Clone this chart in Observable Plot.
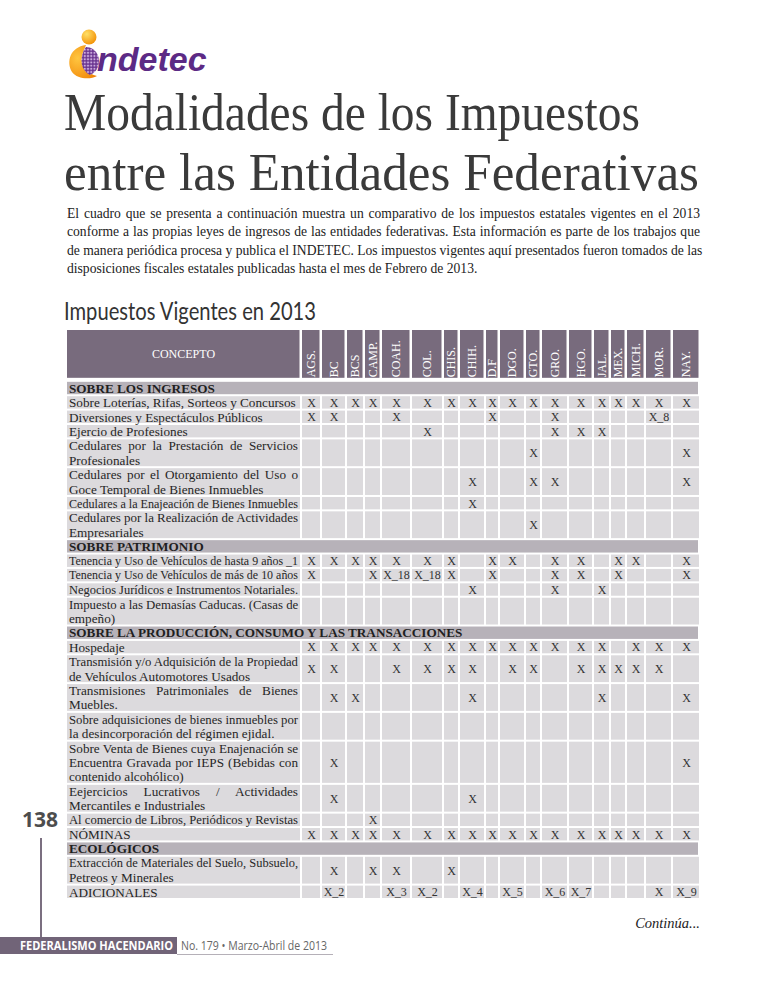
<!DOCTYPE html>
<html><head><meta charset="utf-8">
<script src="https://cdn.jsdelivr.net/npm/d3@7"></script>
<script src="https://cdn.jsdelivr.net/npm/@observablehq/plot@0.6"></script>
<style>
body{margin:0;background:#fff}
#page{position:relative;width:768px;height:994px;overflow:hidden;background:#fff;color:#333}
.abs{position:absolute;white-space:nowrap}
.fit{display:inline-block;transform-origin:0 50%}
#title{left:64px;top:83px;font-family:"Liberation Serif",serif;font-size:52px;line-height:60px;color:#3a3a3a}
#intro{left:67px;top:205px;width:633px;white-space:normal;font-family:"Liberation Serif",serif;font-size:13.6px;line-height:18.3px;color:#222}
#intro div{text-align:justify;text-align-last:justify;white-space:nowrap}
#intro div.last{text-align-last:left}
#sub{left:64px;top:298px;font-family:Lato,"Open Sans",sans-serif;font-size:25px;line-height:24px;color:#333}
#chart{left:0;top:320px}
#cont{right:68px;top:916px;font-family:"Liberation Serif",serif;font-style:italic;font-size:14.5px;line-height:14px;color:#222}
#pnum{left:22px;top:806px;font-family:"Open Sans",sans-serif;font-weight:700;font-size:21px;line-height:26px;color:#4d4d4d}
#vline{left:40px;top:838px;width:1.5px;height:99px;background:#7b6f80}
#fbar{left:0;top:937px;width:177px;height:17px;background:#716478}
#ftxt{left:20px;top:937px;font-family:"Open Sans",sans-serif;font-weight:700;font-size:12px;line-height:17px;color:#fff}
#fnum{left:181px;top:937px;font-family:"Open Sans",sans-serif;font-size:12px;line-height:17px;color:#666}
#fline{left:177px;top:954px;width:156px;height:1px;background:#b5b0b8}
</style></head>
<body><div id="page">
<svg class="abs" style="left:0;top:0" width="260" height="90">
  <defs>
    <radialGradient id="og" cx="0.35" cy="0.3" r="0.8"><stop offset="0" stop-color="#ffe066"/><stop offset="1" stop-color="#f28c00"/></radialGradient>
    <radialGradient id="og2" cx="0.3" cy="0.4" r="0.9"><stop offset="0" stop-color="#ffc640"/><stop offset="1" stop-color="#ef7d00"/></radialGradient>
    <pattern id="dots" width="3.2" height="3.2" patternUnits="userSpaceOnUse"><rect width="3.2" height="3.2" fill="#6a3590"/><circle cx="1.6" cy="1.6" r="1.1" fill="#c9a8dc"/></pattern>
  </defs>
  <circle cx="89" cy="37" r="7.5" fill="url(#og)"/>
  <path d="M86 45 C70 47 66 62 72 72 C77 79 90 80 97 76 C88 74 80 66 82 56 C83 51 85 48 86 45 Z" fill="url(#og2)"/>
  <path d="M86 47 C93 47 99 53 99 61 C99 68 95 73 90 75 C84 72 80 65 82 56 C83 52 84 49 86 47 Z" fill="url(#dots)"/>
  <text x="97" y="71" font-family="Liberation Sans, Arial, sans-serif" font-weight="700" font-style="italic" font-size="34" fill="#5c2a85">ndetec</text>
</svg>
<div id="title" class="abs"><div><span class="fit" data-w="576">Modalidades de los Impuestos</span></div><div><span class="fit" data-w="635">entre las Entidades Federativas</span></div></div>
<div id="intro" class="abs">
<div>El cuadro que se presenta a continuación muestra un comparativo de los impuestos estatales vigentes en el 2013</div>
<div>conforme a las propias leyes de ingresos de las entidades federativas. Esta información es parte de los trabajos que</div>
<div>de manera periódica procesa y publica el INDETEC. Los impuestos vigentes aquí presentados fueron tomados de las</div>
<div class="last">disposiciones fiscales estatales publicadas hasta el mes de Febrero de 2013.</div>
</div>
<div id="sub" class="abs"><span class="fit" data-w="252">Impuestos Vigentes en 2013</span></div>
<div id="chart" class="abs"></div>
<div id="cont" class="abs">Continúa...</div>
<div id="pnum" class="abs">138</div>
<div id="vline" class="abs"></div>
<div id="fbar" class="abs"></div>
<div id="ftxt" class="abs"><span class="fit" data-w="153">FEDERALISMO HACENDARIO</span></div>
<div id="fnum" class="abs"><span class="fit" data-w="146">No. 179 • Marzo-Abril de 2013</span></div>
<div id="fline" class="abs"></div>
</div>
<script>
// ---------------- DATA ----------------
const estados = ["AGS.","BC","BCS","CAMP.","COAH.","COL.","CHIS.","CHIH.","D.F","DGO.","GTO.","GRO.","HGO.","JAL.","MEX.","MICH.","MOR.","NAY."];
const encabezadoConcepto = "CONCEPTO";
const secciones = ["SOBRE LOS INGRESOS","SOBRE PATRIMONIO","SOBRE LA PRODUCCIÓN, CONSUMO Y LAS TRANSACCIONES","ECOLÓGICOS"];
const conceptos = [
  "Sobre Loterías, Rifas, Sorteos y Concursos",
  "Diversiones y Espectáculos Públicos",
  "Ejercio de Profesiones",
  "Cedulares por la Prestación de Servicios\nProfesionales",
  "Cedulares por el Otorgamiento del Uso o\nGoce Temporal de Bienes Inmuebles",
  "Cedulares a la Enajeación de Bienes Inmuebles",
  "Cedulares por la Realización de Actividades\nEmpresariales",
  "Tenencia y Uso de Vehículos de hasta 9 años _1",
  "Tenencia y Uso de Vehículos de más de 10 años",
  "Negocios Jurídicos e Instrumentos Notariales.",
  "Impuesto a las Demasías Caducas. (Casas de\nempeño)",
  "Hospedaje",
  "Transmisión y/o Adquisición de la Propiedad\nde Vehículos Automotores Usados",
  "Transmisiones Patrimoniales de Bienes\nMuebles.",
  "Sobre adquisiciones de bienes inmuebles por\nla desincorporación del régimen ejidal.",
  "Sobre Venta de Bienes cuya Enajenación se\nEncuentra Gravada por IEPS (Bebidas con\ncontenido alcohólico)",
  "Eejercicios Lucrativos / Actividades\nMercantiles e Industriales",
  "Al comercio de Libros, Periódicos y Revistas",
  "NÓMINAS",
  "Extracción de Materiales del Suelo, Subsuelo,\nPetreos y Minerales",
  "ADICIONALES"
];
const seccionDeConcepto = [0,0,0,0,0,0,0, 1,1,1,1, 2,2,2,2,2,2,2,2, 3,3];
// columns: AGS BC BCS CAMP COAH COL CHIS CHIH D.F DGO GTO GRO HGO JAL MEX MICH MOR NAY
const marcas = [
  ["X","X","X","X","X","X","X","X","X","X","X","X","X","X","X","X","X","X"],
  ["X","X","","","X","","","","X","","","X","","","","","X_8",""],
  ["","","","","","X","","","","","","X","X","X","","","",""],
  ["","","","","","","","","","","X","","","","","","","X"],
  ["","","","","","","","X","","","X","X","","","","","","X"],
  ["","","","","","","","X","","","","","","","","","",""],
  ["","","","","","","","","","","X","","","","","","",""],
  ["X","X","X","X","X","X","X","","X","X","","X","X","","X","X","","X"],
  ["X","","","X","X_18","X_18","X","","X","","","X","X","","X","","","X"],
  ["","","","","","","","X","","","","X","","X","","","",""],
  ["","","","","","","","","","","","","","","","","",""],
  ["X","X","X","X","X","X","X","X","X","X","X","X","X","X","","X","X","X"],
  ["X","X","","","X","X","X","X","","X","X","","X","X","X","X","X",""],
  ["","X","X","","","","","X","","","","","","X","","","","X"],
  ["","","","","","","","","","","","","","","","","",""],
  ["","X","","","","","","","","","","","","","","","","X"],
  ["","X","","","","","","X","","","","","","","","","",""],
  ["","","","X","","","","","","","","","","","","","",""],
  ["X","X","X","X","X","X","X","X","X","X","X","X","X","X","X","X","X","X"],
  ["","X","","X","X","","X","","","","","","","","","","",""],
  ["","X_2","","","X_3","X_2","","X_4","","X_5","","X_6","X_7","","","","X","X_9"]
];

// ---------------- LAYOUT ----------------
const colW = [235,20,25,18,17,30,32,16,26,14,26,16,27,25,17,16,19,27,28]; // relative column widths
const edges = Array.from(d3.cumsum([0, ...colW]));
const total = edges[edges.length - 1];
const headerUnits = 3.6;
const mid = i => (edges[i] + edges[i + 1]) / 2;
const labelSize = 13.2;

const rows = [];
let line = 0;
secciones.forEach((s, si) => {
  rows.push({kind: "sec", label: s, y1: line, y2: line + 1});
  line += 1;
  conceptos.forEach((c, ci) => {
    if (seccionDeConcepto[ci] !== si) return;
    const ls = c.split("\n");
    rows.push({kind: "item", label: c, lines: ls, y1: line, y2: line + ls.length, marks: marcas[ci]});
    line += ls.length;
  });
});
const nLines = line;

const headerCells = edges.slice(0, -1).map((e, i) => ({x1: e, x2: edges[i + 1], y1: -headerUnits, y2: 0}));
const headerLabels = estados.map((e, i) => ({x: mid(i + 1), y: 0, text: e}));
const secCells = rows.filter(r => r.kind === "sec").map(r => ({x1: 0, x2: total, y1: r.y1, y2: r.y2, text: r.label}));
const itemCells = rows.filter(r => r.kind === "item").flatMap(r =>
  edges.slice(0, -1).map((e, i) => ({x1: e, x2: edges[i + 1], y1: r.y1, y2: r.y2})));
const labelLines = rows.filter(r => r.kind === "item").flatMap(r =>
  r.lines.map((t, k) => ({x: 0, y: r.y1 + k + 0.5, text: t, justify: k < r.lines.length - 1})));
const markTexts = rows.filter(r => r.kind === "item").flatMap(r =>
  r.marks.map((m, i) => ({x: mid(i + 1), y: (r.y1 + r.y2) / 2, text: m})).filter(d => d.text));

const serif = "Liberation Serif, Times New Roman, serif";
const plot = Plot.plot({
  width: 768,
  height: 585,
  marginTop: 10, marginBottom: 5, marginLeft: 67, marginRight: 67,
  x: {domain: [0, total], range: [67, 701], axis: null},
  y: {domain: [-headerUnits, nLines], range: [10, 580], axis: null},
  style: {background: "transparent", fontFamily: serif},
  marks: [
    Plot.rect(headerCells, {x1: "x1", x2: "x2", y1: "y1", y2: "y2", fill: "#786b7d", insetRight: 2.5, insetBottom: 4}),
    Plot.rect(secCells, {x1: "x1", x2: "x2", y1: "y1", y2: "y2", fill: "#b7b2b9", insetRight: 3, insetBottom: 2}),
    Plot.rect(itemCells, {x1: "x1", x2: "x2", y1: "y1", y2: "y2", fill: "#dcdadd", insetRight: 2, insetBottom: 2}),
    Plot.text([encabezadoConcepto], {x: colW[0] / 2, y: -headerUnits / 2, text: d => d, fill: "white", fontSize: 12, dx: -1.5, dy: -2}),
    Plot.text(headerLabels, {x: "x", y: "y", text: "text", rotate: -90, textAnchor: "start", lineAnchor: "middle", fill: "white", fontSize: 12, dx: -1, dy: -5}),
    Plot.text(secCells, {x: 0, y: d => (d.y1 + d.y2) / 2, text: "text", textAnchor: "start", fontWeight: "bold", fontSize: labelSize, fill: "#1f1f1f", dx: 1.5, dy: -1}),
    Plot.text(labelLines, {x: "x", y: "y", text: "text", textAnchor: "start", fontSize: labelSize, fill: "#262626", dx: 1.5, dy: -1}),
    Plot.text(markTexts, {x: "x", y: "y", text: "text", fontSize: 12, fill: "#333", dx: -1, dy: -1})
  ]
});
document.getElementById("chart").appendChild(plot);

// justify multi-line concept text like the printed table:
// widen word spaces when short, shrink the type slightly when too long
const J = 229;
const justifySet = new Set(labelLines.filter(d => d.justify).map(d => d.text));
const labelSet = new Set(labelLines.map(d => d.text));
d3.select(plot).selectAll("text").each(function () {
  const t = this.textContent;
  if (!labelSet.has(t)) return;
  const natural = this.getComputedTextLength();
  const spaces = (t.match(/ /g) || []).length;
  if (natural > J) {
    this.setAttribute("font-size", (labelSize * J / natural).toFixed(2));
  } else if (spaces && justifySet.has(t)) {
    this.style.wordSpacing = ((J - natural) / spaces) + "px";
  }
});

// fit page texts to their printed widths
document.querySelectorAll(".fit").forEach(el => {
  const w = el.getBoundingClientRect().width;
  const target = +el.dataset.w;
  if (w > 0) el.style.transform = `scaleX(${target / w})`;
});
</script>
</body></html>
